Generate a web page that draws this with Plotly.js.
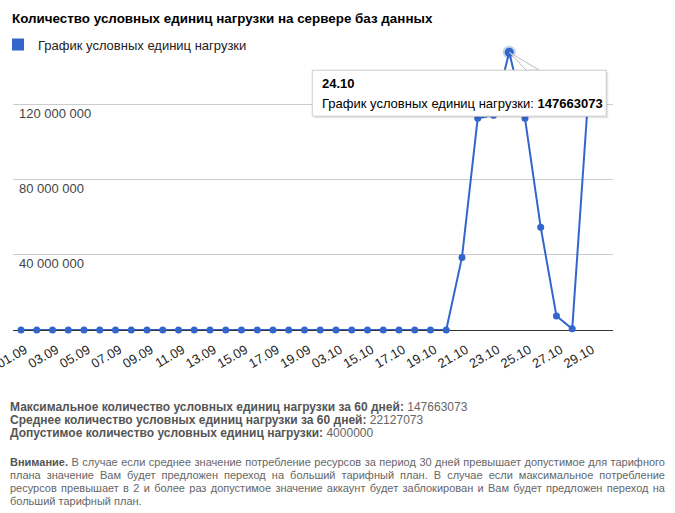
<!DOCTYPE html>
<html>
<head>
<meta charset="utf-8">
<script src="https://cdn.plot.ly/plotly-3.0.1.min.js"></script>
<style>
  html, body { margin: 0; padding: 0; background: #fff; }
  #wrap { position: relative; width: 675px; height: 513px; overflow: hidden; }
  #chart { position: absolute; left: 0; top: 0; width: 675px; height: 513px; }
  .info { position: absolute; left: 10px; font-family: "Liberation Sans", Arial, sans-serif; font-size: 11px; line-height: 13px; color: #666; }
  .info b { color: #555; }
  #stats { top: 401px; font-size: 12px; }
  #note { top: 456px; width: 655px; }
  #note .j { text-align: justify; text-align-last: justify; }
</style>
</head>
<body>
<div id="wrap">
  <div id="chart"></div>
  <div id="stats" class="info">
    <div><b>Максимальное количество условных единиц нагрузки за 60 дней:</b> 147663073</div>
    <div><b>Среднее количество условных единиц нагрузки за 60 дней:</b> 22127073</div>
    <div><b>Допустимое количество условных единиц нагрузки:</b> 4000000</div>
  </div>
  <div id="note" class="info">
    <div class="j"><b>Внимание.</b> В случае если среднее значение потребление ресурсов за период 30 дней превышает допустимое для тарифного</div>
    <div class="j">плана значение Вам будет предложен переход на больший тарифный план. В случае если максимальное потребление</div>
    <div class="j">ресурсов превышает в 2 и более раз допустимое значение аккаунт будет заблокирован и Вам будет предложен переход на</div>
    <div>больший тарифный план.</div>
  </div>
</div>
<script>
// ---- data ----
var dates = [
  "01.09","02.09","03.09","04.09","05.09","06.09","07.09","08.09","09.09","10.09",
  "11.09","12.09","13.09","14.09","15.09","16.09","17.09","18.09","19.09","02.10",
  "03.10","14.10","15.10","16.10","17.10","18.10","19.10","20.10","21.10","22.10",
  "23.10","24.10","25.10","26.10","27.10","28.10","29.10"
];
var loadUnits = [
  0,0,0,0,0,0,0,0,0,0,
  0,0,0,0,0,0,0,0,0,0,
  0,0,0,0,0,0,0,0,38600000,112600000,
  114200000,147663073,112600000,54600000,7400000,600000,122000000
];
var yTickValues = [40000000, 80000000, 120000000, 160000000];
var yTickLabels = ["40 000 000", "80 000 000", "120 000 000", ""];
var seriesName = "График условных единиц нагрузки";
var chartTitle = "Количество условных единиц нагрузки на сервере баз данных";

// ---- derived ----
var peakIdx = 0;
for (var i = 1; i < loadUnits.length; i++) if (loadUnits[i] > loadUnits[peakIdx]) peakIdx = i;
var peakX = dates[peakIdx], peakY = loadUnits[peakIdx];

var blue = "#3366cc";
var font = "Liberation Sans, Arial, sans-serif";

var traces = [
  {
    type: "scatter", mode: "lines+markers", x: dates, y: loadUnits,
    line: {color: blue, width: 2}, marker: {color: blue, size: 7},
    showlegend: false, hoverinfo: "skip", cliponaxis: false
  },
  {
    type: "scatter", mode: "markers", x: [peakX], y: [peakY],
    marker: {color: blue, size: 9, line: {color: "rgba(51,102,204,0.3)", width: 4}},
    showlegend: false, hoverinfo: "skip", cliponaxis: false
  },
  {
    type: "bar", x: [null], y: [null], name: seriesName,
    marker: {color: blue}, showlegend: true, hoverinfo: "skip"
  }
];

// y tick labels drawn below their gridlines (Google Charts "in" style)
var yLabelAnns = [];
for (var k = 0; k < yTickValues.length; k++) {
  if (!yTickLabels[k]) continue;
  yLabelAnns.push({
    x: 4/600, xref: "paper", y: yTickValues[k], yref: "y",
    xanchor: "left", yanchor: "middle", yshift: -9, showarrow: false,
    text: yTickLabels[k], font: {family: font, size: 13, color: "#444"}
  });
}

var layout = {
  width: 675, height: 513,
  margin: {l: 13, r: 62, t: 29, b: 183, pad: 0, autoexpand: false},
  paper_bgcolor: "#fff", plot_bgcolor: "#fff",
  font: {family: font, size: 13, color: "#222"},
  title: {
    text: chartTitle, x: 12/675, xanchor: "left", xref: "container",
    y: 1 - 18/513, yanchor: "middle", yref: "container",
    font: {family: font, size: 13.4, color: "#000", weight: "bold"}
  },
  showlegend: true,
  legend: {
    x: -0.025, xanchor: "left", y: 0.998, yanchor: "top",
    font: {family: font, size: 13, color: "#222"},
    bgcolor: "rgba(0,0,0,0)", borderwidth: 0
  },
  xaxis: {
    type: "category", range: [-0.508, 37.59], automargin: false,
    tickmode: "linear", tick0: 0, dtick: 2,
    tickangle: -30, ticklabelstandoff: 9, ticklabelshift: 4,
    showgrid: false, zeroline: false, showline: false,
    ticks: "", tickfont: {family: font, size: 13, color: "#222"}, fixedrange: true
  },
  yaxis: {
    range: [0, 160000000], tickmode: "array", automargin: false,
    tickvals: yTickValues, ticktext: yTickLabels, showticklabels: false,
    showgrid: true, gridcolor: "#cccccc", gridwidth: 1,
    zeroline: true, zerolinecolor: "#333333", zerolinewidth: 1,
    showline: false, ticks: "", fixedrange: true
  },
  shapes: [
    {type: "path", xref: "x", yref: "y", xsizemode: "pixel", ysizemode: "pixel",
     xanchor: peakIdx, yanchor: peakY, path: "M 0 0 L 17 -18 L 30 -18 Z",
     line: {color: "#bbbbbb", width: 1}, fillcolor: "#ffffff", layer: "above"},
    {type: "rect", xref: "x", yref: "y", xsizemode: "pixel", ysizemode: "pixel",
     xanchor: peakIdx, yanchor: peakY, x0: -195, x1: 99, y0: -20, y1: -66,
     line: {width: 0}, fillcolor: "rgba(0,0,0,0.10)", layer: "above"},
    {type: "rect", xref: "x", yref: "y", xsizemode: "pixel", ysizemode: "pixel",
     xanchor: peakIdx, yanchor: peakY, x0: -197, x1: 97, y0: -18, y1: -64,
     line: {color: "#cccccc", width: 1}, fillcolor: "#ffffff", layer: "above"}
  ],
  annotations: yLabelAnns.concat([
    {x: peakIdx, y: peakY, xref: "x", yref: "y", showarrow: false,
     xanchor: "left", yanchor: "middle", xshift: -189, yshift: -31,
     text: "<b>" + peakX + "</b>", font: {family: font, size: 13, color: "#000"}},
    {x: peakIdx, y: peakY, xref: "x", yref: "y", showarrow: false,
     xanchor: "left", yanchor: "middle", xshift: -189, yshift: -51,
     text: seriesName + ": <b>" + peakY + "</b>", font: {family: font, size: 13, color: "#000"}}
  ])
};

Plotly.newPlot("chart", traces, layout, {staticPlot: true, displayModeBar: false});
</script>
</body>
</html>
